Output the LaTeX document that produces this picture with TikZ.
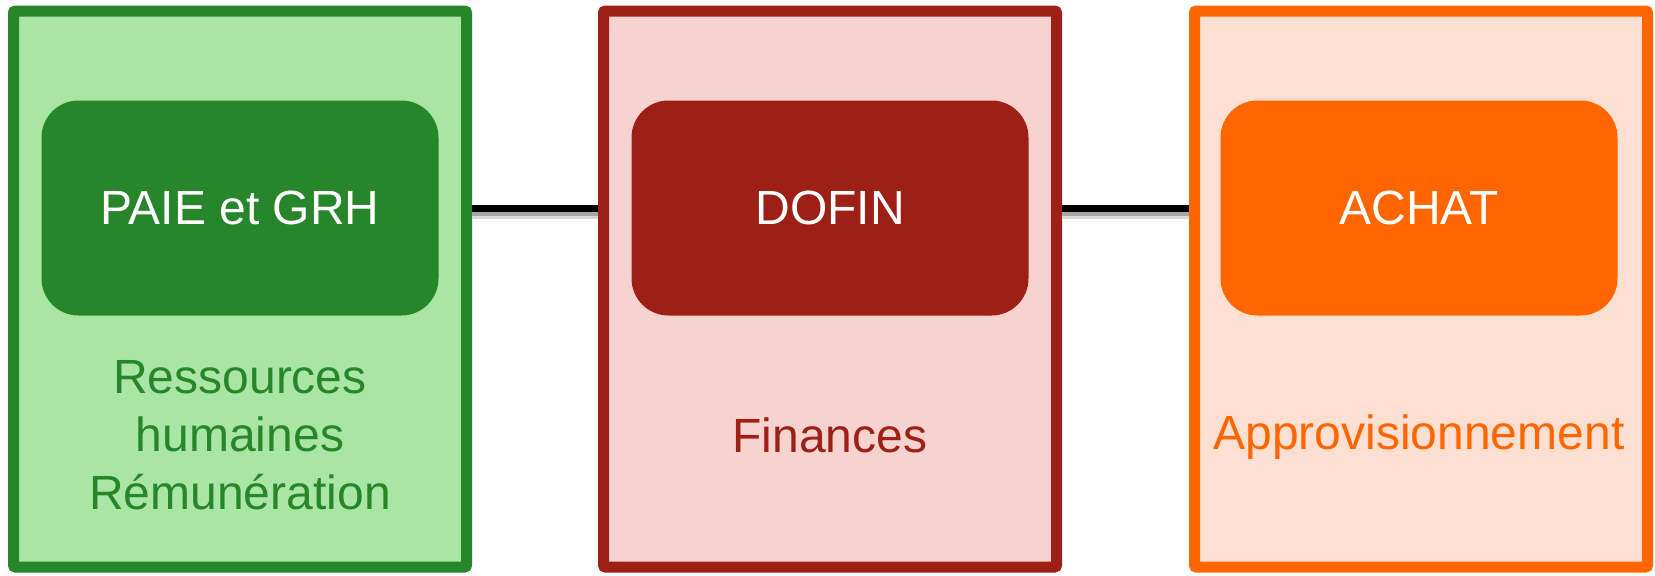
\documentclass[tikz,border=0pt]{standalone}
\usepackage{fontspec}
\setmainfont{Liberation Sans}
\definecolor{grhdark}{HTML}{28862A}
\definecolor{grhlight}{HTML}{A9E6A6}
\definecolor{findark}{HTML}{9E1F16}
\definecolor{finlight}{HTML}{F7D3CF}
\definecolor{achdark}{HTML}{FF6600}
\definecolor{achlight}{HTML}{FDE0D1}
\begin{document}
\begin{tikzpicture}[x=0.5pt,y=-0.5pt,
    outerbox/.style={draw,line width=5.5pt,rounded corners=1pt,minimum width=226.5pt,minimum height=278pt,inner sep=0pt},
    innerbox/.style={rounded corners=18.5pt,minimum width=198.5pt,minimum height=107.5pt,text=white,font=\fontsize{24}{29}\selectfont,inner sep=0pt},
    sublabel/.style={align=center,font=\fontsize{24}{29}\selectfont},
    link/.style={line width=3.5pt,
        preaction={draw=black!15,line width=3.5pt,transform canvas={yshift=-3.5pt}},
        preaction={draw=black!35,line width=3.5pt,transform canvas={yshift=-2pt}}}]
        \useasboundingbox (0,0) rectangle (1655,575);
        \node [outerbox,draw=grhdark,fill=grhlight] (grhbox) at (240,289) {};
        \node [outerbox,draw=findark,fill=finlight] (finbox) at (830,289) {};
        \node [outerbox,draw=achdark,fill=achlight] (achbox) at (1421,289) {};
        \node [innerbox,fill=grhdark] (paie) at (240,208) {PAIE et GRH};
        \node [innerbox,fill=findark] (dofin) at (830,208) {DOFIN};
        \node [innerbox,fill=achdark] (achat) at (1419,208) {ACHAT};
        \node [sublabel,text=grhdark] (grhtext) at (240,435) {Ressources\\humaines\\Rémunération};
        \node [sublabel,text=findark] (fintext) at (830,435) {Finances};
        \node [sublabel,text=achdark] (achtext) at (1419,437) {Approvisionnement};
        \draw [link] (paie -| grhbox.east) -- (dofin -| finbox.west);
        \draw [link] (dofin -| finbox.east) -- (achat -| achbox.west);
    \end{tikzpicture}
\end{document}
